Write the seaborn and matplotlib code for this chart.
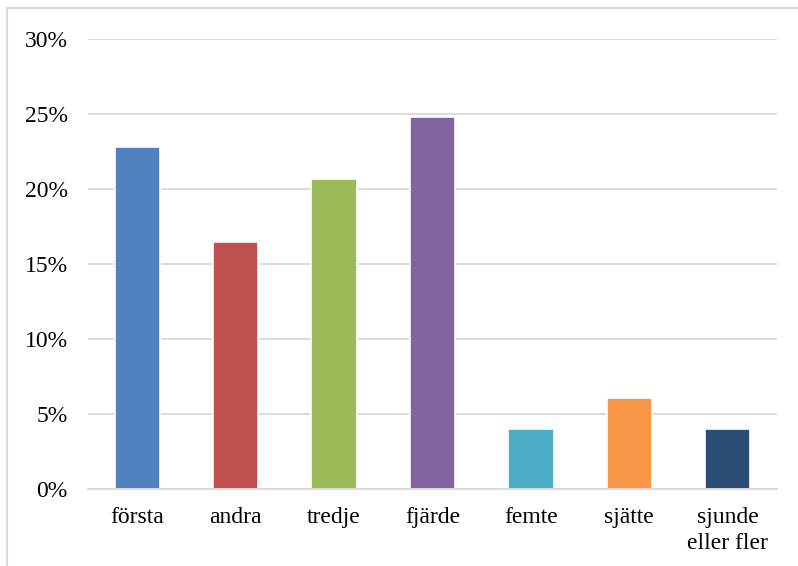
import matplotlib
matplotlib.use("Agg")
import matplotlib.pyplot as plt
from matplotlib.patches import Rectangle
from matplotlib.ticker import FuncFormatter, FixedLocator
from matplotlib.transforms import blended_transform_factory, ScaledTranslation
import seaborn as sns
import pandas as pd

categories = ["första", "andra", "tredje", "fjärde", "femte", "sjätte", "sjunde\neller fler"]
shares = [22.8, 16.5, 20.7, 24.8, 4.0, 6.1, 4.0]
colors = ["#4F81BD", "#C0504D", "#9BBB59", "#8064A2", "#4BACC6", "#F79646", "#2C4D75"]
yticks = [0, 5, 10, 15, 20, 25, 30]

sns.set_theme(style="white")
plt.rcParams["font.family"] = ["Liberation Serif", "DejaVu Serif"]

df = pd.DataFrame({"kategori": categories, "andel": shares})

fig = plt.figure(figsize=(7.98, 5.66), dpi=100)
ax = fig.add_axes([88 / 798, 1 - 489 / 566, (777 - 88) / 798, (489 - 39) / 566])

sns.barplot(data=df, x="kategori", y="andel", hue="kategori", palette=colors,
            width=0.46, legend=False, ax=ax, edgecolor="white", linewidth=1.2,
            saturation=1, zorder=3)

ax.set_ylim(0, 30)
ax.set_xlim(-0.5, len(categories) - 0.5)
ax.set_yticks(yticks)
ax.yaxis.set_major_formatter(FuncFormatter(lambda v, _: f"{v:.0f}%"))
ax.grid(axis="y", color="#D9D9D9", linewidth=1.3, zorder=0)
ax.set_axisbelow(True)
ax.set_xlabel("")
ax.set_ylabel("")

for side in ["left", "right", "top"]:
    ax.spines[side].set_visible(False)
ax.spines["bottom"].set_color("#D9D9D9")
ax.spines["bottom"].set_linewidth(1.3)
ax.spines["bottom"].set_zorder(4)

ax.tick_params(axis="y", length=0, pad=14.5, labelsize=17, labelcolor="black")
ax.tick_params(axis="x", which="major", length=0, labelbottom=False)
ax.xaxis.set_minor_locator(FixedLocator([i - 0.5 for i in range(len(categories) + 1)]))
ax.tick_params(axis="x", which="minor", length=7, width=1.3, color="#D9D9D9", direction="out")

# category labels, each line on its own baseline below the axis
base = blended_transform_factory(ax.transData, ax.transAxes)
for i, name in enumerate(categories):
    for k, line in enumerate(name.split("\n")):
        off = ScaledTranslation(0, -(34 + 26 * k) / 100, fig.dpi_scale_trans)
        ax.text(i, 0, line, transform=base + off, ha="center", va="baseline",
                fontsize=17, color="black", clip_on=False)

# light frame around the chart area
fig.patches.append(Rectangle((7 / 798, -0.1), 1.2, 1 - 8 / 566 + 0.1,
                             transform=fig.transFigure, fill=False,
                             edgecolor="#D9D9D9", linewidth=1.5))

fig.savefig("out.png", dpi=100, facecolor="white")
